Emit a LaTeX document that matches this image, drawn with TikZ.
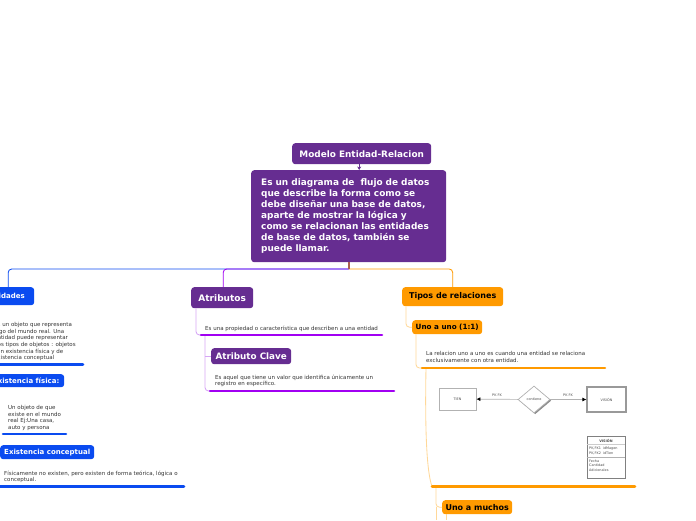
\documentclass[tikz,border=0pt]{standalone}
\usepackage{fontspec}
\setmainfont{DejaVu Sans}
\usetikzlibrary{shapes.geometric,arrows.meta,shadows}
\definecolor{purp}{HTML}{662D91}
\definecolor{vio}{HTML}{A100F2}
\definecolor{lvio}{HTML}{D6A6F5}
\definecolor{blu}{HTML}{0A4BF0}
\definecolor{ora}{HTML}{FF9A00}
\definecolor{lora}{HTML}{FFD899}
\definecolor{txt}{HTML}{333333}
\tikzset{
 x=1pt,y=-1pt,
 box/.style={rounded corners=3pt,inner sep=0pt,font=\fontsize{7}{8}\selectfont\bfseries,align=center,anchor=north west},
 pbox/.style={box,fill=purp,text=white},
 bbox/.style={box,fill=blu,text=white},
 obox/.style={box,fill=ora,text=black},
 note/.style={inner sep=0pt,anchor=north west,align=left,text=txt,font=\fontsize{5.5}{6.7}\selectfont},
 bar/.style={line width=2.6pt,line cap=round},
 link/.style={line width=0.85pt,rounded corners=3.5pt},
 ent/.style={draw=black!30,fill=white,inner sep=0pt,line width=0.7pt,drop shadow={shadow xshift=1.2pt,shadow yshift=-1.2pt,opacity=0.45,fill=black}},
 mini/.style={inner sep=0pt,text=black!70,font=\fontsize{3.4}{4.4}\selectfont},
 flow/.style={black!30,line width=0.7pt,-{Latex[length=4pt,width=4pt,black]}},
}
\begin{document}
\begin{tikzpicture}
\useasboundingbox (0,0) rectangle (696,520);
\clip (0,0) rectangle (696,520);
% free coordinates
\coordinate (hub) at (349,269);
\coordinate (b1a) at (-10,364.5); \coordinate (b1b) at (83,364.5);
\coordinate (b2a) at (3,434); \coordinate (b2b) at (66,434);
\coordinate (b3a) at (-10,486.5); \coordinate (b3b) at (184,486.5);
\coordinate (b4a) at (201,335); \coordinate (b4b) at (382,335);
\coordinate (b5a) at (210,391); \coordinate (b5b) at (394,391);
\coordinate (b6a) at (422,368); \coordinate (b6b) at (605,368);
\coordinate (b7a) at (432,486.5); \coordinate (b7b) at (635,486.5);
\coordinate (endm) at (446,520);
\coordinate (endt) at (436,520);
% nodes
\node[pbox,minimum width=139,minimum height=21] (root) at (292,143) {\fontsize{8.9}{10}\selectfont Modelo Entidad-Relacion};
\node[pbox,minimum width=195,minimum height=92,text width=175,align=left,font=\fontsize{8.95}{11}\selectfont\bfseries] (main) at (251,170) {Es un diagrama de\ \ flujo de datos\\que describe la forma como se\\debe diseñar una base de datos,\\aparte de mostrar la lógica y\\como se relacionan las entidades\\de base de datos, también se\\puede llamar.};
\node[bbox,minimum width=58,minimum height=18] (ent) at (-24,287) {\fontsize{7}{8}\selectfont Entidades};
\node[pbox,minimum width=62,minimum height=21] (atr) at (191,287) {\fontsize{9}{10}\selectfont Atributos};
\node[obox,minimum width=101,minimum height=19] (tip) at (402,287) {\fontsize{8}{9}\selectfont Tipos de relaciones};
\node[note] (entn) at (-6,322) {Es un objeto que representa\\algo del mundo real. Una\\entidad puede representar\\dos tipos de objetos : objetos\\con existencia física y de\\existencia conceptual};
\node[bbox,minimum width=76,minimum height=13] (efi) at (-12,374) {Existencia física:};
\node[note] (efin) at (8,405) {Un objeto de que\\existe en el mundo\\real Ej:Una casa,\\auto y persona};
\node[bbox,minimum width=94,minimum height=14] (eco) at (0,445) {Existencia conceptual};
\node[note] (econ) at (4,470.5) {Físicamente no existen, pero existen de forma teórica, lógica o\\conceptual.};
\node[note] (atrn) at (205,325.5) {Es una propiedad o característica que describen a una entidad};
\node[pbox,minimum width=80,minimum height=16] (cla) at (211,348) {\fontsize{8.8}{10}\selectfont Atributo Clave};
\node[note] (clan) at (215,374.5) {Es aquel que tiene un valor que identifica únicamente un\\registro en específico.};
\node[obox,minimum width=70,minimum height=14] (uno) at (412,320) {\fontsize{7.2}{8}\selectfont Uno a uno (1:1)};
\node[note] (unon) at (426,351) {La relacion uno a uno es cuando una entidad se relaciona\\exclusivamente con otra entidad.};
\node[obox,minimum width=70,minimum height=14] (muc) at (442,500) {\fontsize{8}{9}\selectfont Uno a muchos};
% trunk
\draw[blu,link] (hub) -| ([xshift=3pt]ent.north);
\draw[vio,link] (hub) -| ([xshift=1pt]atr.north);
\draw[ora,link] (hub) -| (tip.north);
\draw[line width=1.2pt,color=purp!55!ora] (main.south -| hub) -- (hub);
\draw[purp,line width=0.7pt,-{Stealth[length=3.5pt,width=4pt]}] ([xshift=-2.5pt]root.south) -- ([xshift=-2.5pt]root.south |- main.north);
% light links
\draw[lvio,link] ([xshift=5pt]atr.south west) |- (b4a);
\draw[lvio,link] (b4a -| 205,0) |- (b5a);
\draw[lvio,link] (cla.west -| 205,0) -- (cla.west);
\draw[lora,link] ([xshift=4pt]tip.south west) |- (uno.west);
\draw[lora,link] ([xshift=4pt]uno.south west) |- (b6a);
\draw[lora,line width=0.85pt] (b6a -| 426,0) .. controls (425,420) and (426,470) .. (b7a);
\draw[lora,link] (b7a -| 436,0) |- (muc.west);
\draw[lora,link] (muc.west -| 436,0) -- (endt);
\draw[lora,link] ([xshift=4pt]muc.south west) -- (endm);
% bars
\draw[blu,bar] (b1a) -- (b1b);
\draw[blu,bar] (b2a) -- (b2b);
\draw[blu,bar] (b3a) -- (b3b);
\draw[vio,bar] (b4a) -- (b4b);
\draw[vio,bar] (b5a) -- (b5b);
\draw[ora,bar] (b6a) -- (b6b);
\draw[ora,bar] (b7a) -- (b7b);
% mini ER
\node[ent,minimum width=37,minimum height=22] (tien) at (457.5,399) {};
\node[mini] at (tien) {TIEN};
\node[ent,diamond,minimum width=32,minimum height=27] (con) at (534,399.5) {};
\node[mini] at (con) {contiene};
\node[ent,draw=black!40,line width=1.1pt,minimum width=39,minimum height=25] (vis) at (606.5,399.5) {};
\node[mini] at (vis) {VISIÓN};
\draw[flow] (con) -- (tien);
\draw[flow] (con) -- (vis);
\node[mini] (l1) at (497,395.5) {PK FK};
\node[mini] (l2) at (568,395.5) {PK FK};
\node[ent,draw=black!50,minimum width=38,minimum height=42] (uml) at (606,457) {};
\node[mini,font=\fontsize{3.4}{4.4}\selectfont\bfseries] at (606,440.5) {VISIÓN};
\draw[black!20,line width=0.4pt] (uml.west |- 0,444.5) -- (uml.east |- 0,444.5);
\draw[black!30,line width=0.4pt] (uml.west |- 0,457.5) -- (uml.east |- 0,457.5);
\node[mini,anchor=north west,align=left] at (589,447) {PK,FK1\ \ idMagen\\PK,FK2\ \ idTien};
\node[mini,anchor=north west,align=left] at (589,459.5) {Fecha\\Cantidad\\Adicionales};
\end{tikzpicture}
\end{document}
